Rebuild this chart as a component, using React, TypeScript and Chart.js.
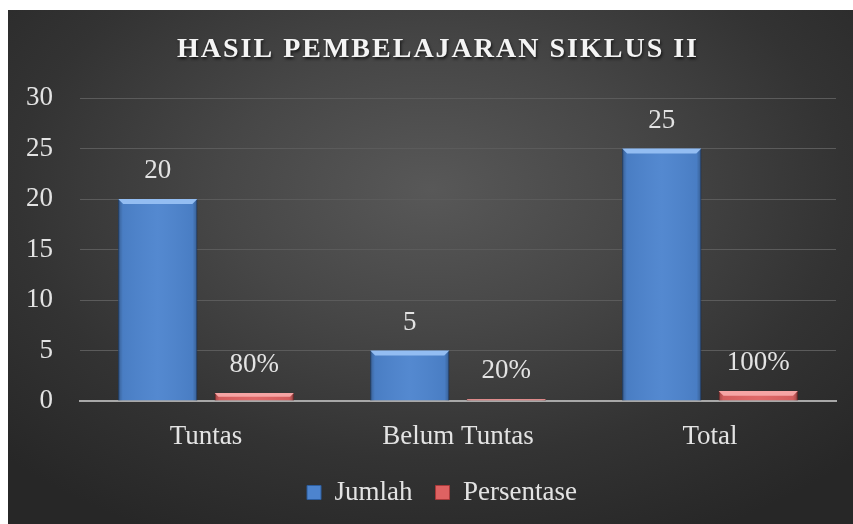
import React, { useEffect, useRef } from 'react';
import { Chart, registerables } from 'chart.js';

Chart.register(...registerables);

const chartTitle = 'HASIL PEMBELAJARAN SIKLUS II';
const categories = ['Tuntas', 'Belum Tuntas', 'Total'];
const seriesNames = ['Jumlah', 'Persentase'];
const jumlahValues = [20, 5, 25];
const persentaseValues = [0.8, 0.2, 1];
const jumlahLabels = ['20', '5', '25'];
const persentaseLabels = ['80%', '20%', '100%'];
const yMin = 0;
const yMax = 30;
const yStep = 5;

const FONT = "'Liberation Serif', 'Times New Roman', serif";
const TEXT = '#e3e3e3';

const barStyles = [
  { fill: '#4d84ce', top: '#93bdf2', edge: '#2c5d9e' },
  { fill: '#de6262', top: '#f6a4a4', edge: '#a83a3a' },
];

const allLabels = [jumlahLabels, persentaseLabels];

const titlePlugin = {
  id: 'customTitle',
  afterDraw(chart: any) {
    const ctx = chart.ctx;
    ctx.save();
    ctx.font = `bold 28px ${FONT}`;
    (ctx as any).letterSpacing = '2px';
    ctx.fillStyle = '#f4f4f4';
    ctx.textAlign = 'center';
    ctx.textBaseline = 'middle';
    ctx.shadowColor = 'rgba(0,0,0,0.7)';
    ctx.shadowOffsetX = 1;
    ctx.shadowOffsetY = 2;
    ctx.shadowBlur = 3;
    ctx.fillText(chartTitle, 430, 40);
    ctx.restore();
  },
};

const legendShiftPlugin = {
  id: 'legendShift',
  afterLayout(chart: any) {
    if (chart.legend) chart.legend.left += 40;
  },
};

const bevelPlugin = {
  id: 'bevel',
  afterDatasetsDraw(chart: any) {
    const ctx = chart.ctx;
    chart.data.datasets.forEach((_ds: any, i: number) => {
      const meta = chart.getDatasetMeta(i);
      const st = barStyles[i];
      meta.data.forEach((bar: any) => {
        const { x, y, base, width } = bar.getProps(['x', 'y', 'base', 'width'], true);
        const left = x - width / 2;
        const right = x + width / 2;
        const h = base - y;
        if (h <= 0) return;
        const b = Math.min(5, h / 2);
        ctx.save();
        const g = ctx.createLinearGradient(left, 0, right, 0);
        g.addColorStop(0, 'rgba(0,0,0,0.28)');
        g.addColorStop(0.06, 'rgba(0,0,0,0.05)');
        g.addColorStop(0.5, 'rgba(255,255,255,0.04)');
        g.addColorStop(0.94, 'rgba(0,0,0,0.05)');
        g.addColorStop(1, 'rgba(0,0,0,0.3)');
        ctx.fillStyle = g;
        ctx.fillRect(left, y, width, h);
        ctx.fillStyle = st.top;
        ctx.beginPath();
        ctx.moveTo(left, y);
        ctx.lineTo(right, y);
        ctx.lineTo(right - b, y + b);
        ctx.lineTo(left + b, y + b);
        ctx.closePath();
        ctx.fill();
        ctx.restore();
      });
    });
  },
};

const labelPlugin = {
  id: 'valueLabels',
  afterDatasetsDraw(chart: any) {
    const ctx = chart.ctx;
    ctx.save();
    ctx.font = `27px ${FONT}`;
    ctx.fillStyle = TEXT;
    ctx.textAlign = 'center';
    ctx.textBaseline = 'middle';
    chart.data.datasets.forEach((_ds: any, i: number) => {
      const meta = chart.getDatasetMeta(i);
      meta.data.forEach((bar: any, j: number) => {
        ctx.fillText(allLabels[i][j], bar.x, bar.y - 28);
      });
    });
    ctx.restore();
  },
};

export default function App() {
  const ref = useRef<HTMLCanvasElement | null>(null);

  useEffect(() => {
    if (!ref.current) return;
    const chart = new Chart(ref.current, {
      type: 'bar',
      data: {
        labels: categories,
        datasets: [
          {
            label: seriesNames[0],
            data: jumlahValues,
            backgroundColor: barStyles[0].fill,
            borderColor: barStyles[0].edge,
            borderWidth: 1,
            categoryPercentage: 0.766,
            barPercentage: 0.82,
          },
          {
            label: seriesNames[1],
            data: persentaseValues,
            backgroundColor: barStyles[1].fill,
            borderColor: barStyles[1].edge,
            borderWidth: 1,
            categoryPercentage: 0.766,
            barPercentage: 0.82,
          },
        ],
      },
      options: {
        responsive: false,
        animation: false,
        layout: { padding: { top: 88, left: 0, right: 17, bottom: 8 } },
        plugins: {
          title: { display: false },
          tooltip: { enabled: false },
          legend: {
            position: 'bottom',
            labels: {
              color: TEXT,
              font: { family: FONT, size: 27 },
              boxWidth: 14,
              boxHeight: 14,
              padding: 23,
            },
          },
        },
        scales: {
          x: {
            grid: { display: false },
            border: { display: true, color: '#a8a8a8', width: 2 },
            ticks: { color: TEXT, font: { family: FONT, size: 27 }, padding: 12 },
            afterFit: (scale: any) => {
              scale.height = 55;
            },
          },
          y: {
            min: yMin,
            max: yMax,
            border: { display: false },
            grid: {
              color: (c: any) => (c.tick && c.tick.value === 0 ? 'rgba(0,0,0,0)' : '#5b5b5b'),
              lineWidth: 1,
              drawTicks: false,
            },
            ticks: {
              stepSize: yStep,
              color: TEXT,
              font: { family: FONT, size: 27 },
              padding: 27,
            },
            afterFit: (scale: any) => {
              scale.width = 72;
            },
          },
        },
      },
      plugins: [legendShiftPlugin, bevelPlugin, labelPlugin, titlePlugin],
    } as any);
    return () => chart.destroy();
  }, []);

  return (
    <div
      style={{
        position: 'fixed',
        left: 8,
        top: 10,
        width: 845,
        height: 514,
        background:
          'radial-gradient(ellipse 70% 75% at 50% 35%, #585858 0%, #474747 35%, #333333 70%, #272727 100%)',
      }}
    >
      <canvas ref={ref} width={845} height={514} style={{ display: 'block' }} />
    </div>
  );
}
